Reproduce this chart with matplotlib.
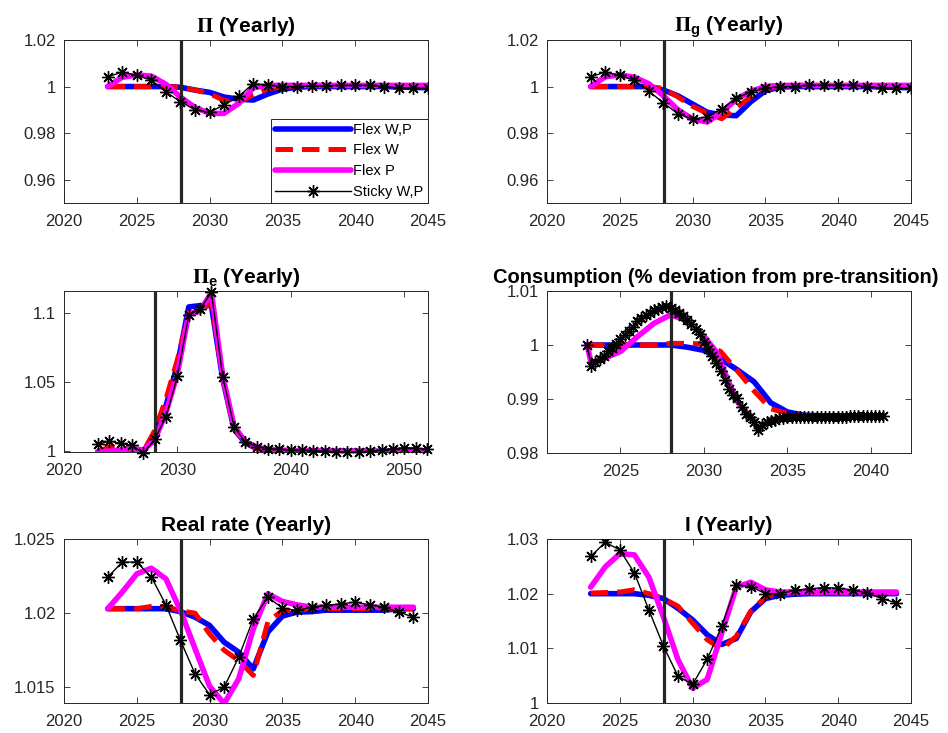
import numpy as np
import matplotlib
matplotlib.use('Agg')
import matplotlib.pyplot as plt

plt.rcParams['font.family'] = ['Liberation Sans', 'DejaVu Sans']
plt.rcParams['mathtext.fontset'] = 'custom'
plt.rcParams['mathtext.rm'] = 'STIXGeneral'
plt.rcParams['mathtext.bf'] = 'STIXGeneral:bold'
plt.rcParams['mathtext.sf'] = 'Liberation Sans:bold'

# ---- data ----
labels = ['Flex W,P', 'Flex W', 'Flex P', 'Sticky W,P']
t_switch = 2028.05

# Pi (yearly)
yrs_pi = list(range(2023, 2046))
pi_flex_wp = [1.0, 1.0, 1.0, 1.0, 1.0, 0.9997, 0.9985, 0.9975, 0.9955, 0.9946, 0.9942, 0.9968,
              0.9989, 0.9997, 1.0, 1.0, 1.0, 1.0, 1.0, 1.0, 0.9998, 0.9996, 0.9995]
pi_flex_w = [1.0, 1.0, 1.0, 1.0, 1.0, 0.9998, 0.9985, 0.9970, 0.9940, 0.9932, 0.9965, 0.9990,
             1.0, 1.0003, 1.0005, 1.0005, 1.0005, 1.0005, 1.0005, 1.0005, 1.0003, 1.0002, 1.0002]
pi_flex_p = [1.0, 1.0040, 1.0050, 1.0045, 1.0010, 0.9955, 0.9910, 0.9885, 0.9885, 0.9928, 0.9995, 1.0005,
             1.0005, 1.0005, 1.0005, 1.0005, 1.0005, 1.0005, 1.0005, 1.0005, 1.0005, 1.0005, 1.0005]
pi_sticky = [1.0042, 1.0062, 1.0048, 1.0028, 0.9977, 0.9935, 0.9900, 0.9890, 0.9921, 0.9958, 1.0013, 1.0006,
             1.0000, 1.0000, 1.0003, 1.0004, 1.0005, 1.0005, 1.0005, 1.0000, 0.9994, 0.9993, 0.9992]

# Pi_g (yearly)
pig_flex_wp = [1.0, 1.0, 1.0, 1.0, 1.0, 0.9985, 0.9960, 0.9925, 0.9890, 0.9878, 0.9875, 0.9935,
               0.9982, 0.9998, 1.0, 1.0, 1.0, 1.0, 1.0, 1.0, 0.9998, 0.9996, 0.9995]
pig_flex_w = [1.0, 1.0, 1.0, 1.0, 1.0, 0.9992, 0.9955, 0.9915, 0.9885, 0.9862, 0.9910, 0.9955,
              0.9990, 1.0, 1.0005, 1.0005, 1.0005, 1.0005, 1.0005, 1.0005, 1.0003, 1.0002, 1.0002]
pig_flex_p = [1.0, 1.0042, 1.0050, 1.0040, 1.0012, 0.9960, 0.9900, 0.9860, 0.9848, 0.9890, 0.9945, 0.9980,
              1.0, 1.0005, 1.0005, 1.0005, 1.0005, 1.0005, 1.0005, 1.0005, 1.0005, 1.0005, 1.0005]
pig_sticky = [1.0042, 1.0062, 1.0048, 1.0027, 0.9980, 0.9930, 0.9883, 0.9860, 0.9870, 0.9904, 0.9950, 0.9977,
              0.9992, 1.0, 1.0, 1.0006, 1.0006, 1.0006, 1.0006, 1.0, 0.9994, 0.9992, 0.9992]

# Pi_e (yearly)
yrs_pie = list(range(2023, 2053))
pie_flex_wp = [1.0, 1.0, 1.0, 1.0, 1.0, 1.012, 1.033, 1.062, 1.104, 1.105, 1.105, 1.052, 1.016, 1.006, 1.002,
               1.001, 1.0, 1.0, 1.0, 1.0, 1.0, 1.0, 1.0, 1.0, 1.0, 1.0, 1.0, 1.0, 1.0, 1.0]
pie_flex_w = [1.0, 1.003, 1.003, 1.0, 1.0, 1.015, 1.038, 1.066, 1.100, 1.100, 1.108, 1.052, 1.016, 1.006, 1.002,
              1.001, 1.0, 1.0, 1.0, 1.0, 1.0, 1.0, 1.0, 1.0, 1.0, 1.0, 1.0, 1.0, 1.0, 1.0]
pie_flex_p = [1.0, 1.0, 1.001, 1.002, 1.001, 1.008, 1.028, 1.056, 1.099, 1.101, 1.1145, 1.054, 1.018, 1.007,
              1.003, 1.0015, 1.001, 1.0005, 1.0005, 1.0005, 1.0, 1.0, 1.0, 1.0, 1.0, 1.0, 1.0, 1.0, 1.0, 1.0]
pie_sticky = [1.0050, 1.0074, 1.0057, 1.0043, 0.9985, 1.0086, 1.0250, 1.0540, 1.0980, 1.1026, 1.1145, 1.0538,
              1.0176, 1.0067, 1.0033, 1.0019, 1.0014, 1.0010, 1.0010, 1.0005, 1.0000, 0.9998, 0.9992, 0.9992,
              1.0000, 1.0010, 1.0019, 1.0026, 1.0024, 1.0014]

# Consumption (quarterly for sticky, key dates for the others)
q_cons = [2023.0, 2023.25, 2023.5, 2023.75, 2024.0, 2024.25, 2024.5, 2024.75, 2025.0, 2025.25, 2025.5, 2025.75,
          2026.0, 2026.25, 2026.5, 2026.75, 2027.0, 2027.25, 2027.5, 2027.75, 2028.0, 2028.25, 2028.5, 2028.75,
          2029.0, 2029.25, 2029.5, 2029.75, 2030.0, 2030.25, 2030.5, 2030.75, 2031.0, 2031.25, 2031.5, 2031.75,
          2032.0, 2032.25, 2032.5, 2032.75, 2033.0, 2033.25, 2033.5, 2033.75, 2034.0, 2034.25, 2034.5, 2034.75,
          2035.0, 2035.25, 2035.5, 2035.75, 2036.0, 2036.25, 2036.5, 2036.75, 2037.0, 2037.25, 2037.5, 2037.75,
          2038.0, 2038.25, 2038.5, 2038.75, 2039.0, 2039.25, 2039.5, 2039.75, 2040.0, 2040.25, 2040.5, 2040.75]
cons_sticky = [1.0000, 0.9962, 0.9968, 0.9975, 0.9980, 0.9988, 0.9995, 1.0002, 1.0012, 1.0019, 1.0026, 1.0034,
               1.0045, 1.0050, 1.0055, 1.0059, 1.0064, 1.0067, 1.0070, 1.0073, 1.0068, 1.0064, 1.0059, 1.0053,
               1.0046, 1.0038, 1.0030, 1.0020, 1.0006, 0.9993, 0.9980, 0.9966, 0.9952, 0.9935, 0.9918, 0.9908,
               0.9901, 0.9886, 0.9873, 0.9866, 0.9858, 0.9843, 0.9852, 0.9857, 0.9860, 0.9862, 0.9864, 0.9865,
               0.9866, 0.9866, 0.9866, 0.9867, 0.9867, 0.9867, 0.9867, 0.9867, 0.9867, 0.9867, 0.9867, 0.9867,
               0.9867, 0.9867, 0.9867, 0.9868, 0.9868, 0.9868, 0.9868, 0.9868, 0.9868, 0.9868, 0.9869, 0.9869]
x_cons_flex = [2023, 2024, 2025, 2026, 2027, 2028, 2029, 2030, 2031, 2032, 2033, 2034, 2035, 2036, 2037,
               2038, 2039, 2040, 2040.75]
cons_flex_wp = [1.0, 1.0, 1.0, 1.0, 1.0, 1.0, 0.9996, 0.9990, 0.9974, 0.9954, 0.9932, 0.9893, 0.9876, 0.9870,
                0.9869, 0.9869, 0.9869, 0.9869, 0.9869]
cons_flex_w = [1.0, 1.0, 1.0, 1.0, 1.0, 1.0003, 1.0003, 1.0002, 0.9988, 0.9952, 0.9915, 0.9882, 0.9873, 0.9869,
               0.9868, 0.9868, 0.9868, 0.9868, 0.9868]
x_cons_p = [2023, 2023.25, 2024, 2025, 2026, 2027, 2028, 2029, 2030, 2030.75, 2031.5, 2032, 2033, 2033.25,
            2034, 2035, 2036, 2038, 2040.75]
cons_flex_p = [1.0, 0.9966, 0.9975, 0.9988, 1.0015, 1.0040, 1.0056, 1.0045, 1.0016, 0.9987, 0.9930, 0.9895,
               0.9858, 0.9842, 0.9862, 0.9865, 0.9866, 0.9867, 0.9868]

# Real rate (yearly)
yrs_r = list(range(2023, 2045))
r_flex_wp = [1.0203, 1.0203, 1.0203, 1.0203, 1.0203, 1.0201, 1.01973, 1.01917, 1.01804, 1.01737, 1.01624, 1.01872,
             1.0198, 1.02007, 1.0201, 1.0202, 1.0202, 1.0202, 1.0202, 1.0202, 1.0203, 1.0203]
r_flex_w = [1.0203, 1.0203, 1.0203, 1.02045, 1.02045, 1.02015, 1.0200, 1.0186, 1.0175, 1.0168, 1.0158, 1.0194,
            1.02018, 1.0202, 1.0203, 1.0203, 1.0203, 1.0203, 1.0203, 1.0203, 1.0203, 1.0203]
r_flex_p = [1.0203, 1.02142, 1.02265, 1.02303, 1.02231, 1.02018, 1.0176, 1.01507, 1.0139, 1.01557, 1.01894, 1.0213,
            1.02079, 1.02056, 1.0204, 1.0204, 1.0204, 1.0204, 1.0204, 1.0204, 1.0204, 1.0204]
r_sticky = [1.02243, 1.02344, 1.02344, 1.02243, 1.02056, 1.01816, 1.01591, 1.01450, 1.01501, 1.01703, 1.01962,
            1.02108, 1.02034, 1.02018, 1.02040, 1.02052, 1.02063, 1.02074, 1.02056, 1.02040, 1.02007, 1.01973]

# Nominal rate I (yearly)
i_flex_wp = [1.0200, 1.0200, 1.0200, 1.0200, 1.0197, 1.0191, 1.0173, 1.0152, 1.0125, 1.0107, 1.0118, 1.0167,
             1.0191, 1.0197, 1.0199, 1.0200, 1.0200, 1.0200, 1.0200, 1.0200, 1.0200, 1.0200]
i_flex_w = [1.0201, 1.0202, 1.0203, 1.0207, 1.0200, 1.0191, 1.0177, 1.0146, 1.0116, 1.0098, 1.0122, 1.0168,
            1.0194, 1.0200, 1.0201, 1.0201, 1.0201, 1.0201, 1.0201, 1.0201, 1.0201, 1.0201]
i_flex_p = [1.0212, 1.0249, 1.0273, 1.0271, 1.0230, 1.0157, 1.0079, 1.0027, 1.0043, 1.0128, 1.0212, 1.0221,
            1.0207, 1.0203, 1.0203, 1.0203, 1.0203, 1.0203, 1.0203, 1.0203, 1.0203, 1.0203]
i_sticky = [1.0268, 1.0294, 1.0280, 1.0238, 1.0170, 1.0104, 1.0049, 1.0034, 1.0080, 1.0140, 1.0216, 1.0213,
            1.0200, 1.0200, 1.0206, 1.0209, 1.0211, 1.0210, 1.0207, 1.0201, 1.0191, 1.0183]

# tick labels
ytl_pi = ['0.96', '0.98', '1', '1.02']
ytl_pie = ['1', '1.05', '1.1']
ytl_cons = ['0.98', '0.99', '1', '1.01']
ytl_r = ['1.015', '1.02', '1.025']
ytl_i = ['1', '1.01', '1.02', '1.03']

AX_COL = '#262626'
star = (8, 2, 0)


def draw(ax, series, sticky_x, sticky_y, sticky_ms=9, clip=True):
    """series: (x, y) for Flex W,P, Flex W, Flex P"""
    (xb, yb), (xr, yr), (xm, ym) = series
    ax.plot(xb, yb, color=(0, 0, 1), lw=4, solid_capstyle='round', label=labels[0], zorder=2)
    ax.plot(xr, yr, color=(1, 0, 0), lw=3.6, dashes=(3.5, 1.8), label=labels[1], zorder=3)
    ax.plot(xm, ym, color=(1, 0, 1), lw=4, solid_capstyle='round', label=labels[2], zorder=4)
    ax.axvline(t_switch, color=AX_COL, lw=2.3, zorder=5)
    ax.plot(sticky_x, sticky_y, color='k', lw=1, marker=star, ms=sticky_ms, mew=1,
            label=labels[3], zorder=6, clip_on=clip)
    ax.tick_params(direction='in', top=True, right=True, length=4, width=0.6,
                   colors=AX_COL, labelsize=12)
    ax.tick_params(axis='x', pad=8)
    ax.tick_params(axis='y', pad=6)
    for s in ax.spines.values():
        s.set_color(AX_COL)
        s.set_linewidth(0.7)


fig = plt.figure(figsize=(9.48, 7.33), dpi=100)
W, H = 948, 733


def add_ax(left, top, right, bottom):
    return fig.add_axes([left / W, 1 - bottom / H, (right - left) / W, (bottom - top) / H])


title_kw = dict(fontsize=15, fontweight='bold', pad=6)

# row 1
ax1 = add_ax(64, 40, 428, 203)
draw(ax1, [(yrs_pi, pi_flex_wp), (yrs_pi, pi_flex_w), (yrs_pi, pi_flex_p)], yrs_pi, pi_sticky)
ax1.set_xlim(2020, 2045)
ax1.set_ylim(0.95, 1.02)
ax1.set_xticks([2020, 2025, 2030, 2035, 2040, 2045])
ax1.set_yticks([0.96, 0.98, 1.0, 1.02])
ax1.set_yticklabels(ytl_pi)
ax1.set_title(r'$\mathbf{\Pi}$ (Yearly)', **title_kw)
leg = ax1.legend(loc='lower right', fontsize=10.5, handlelength=5.2, handletextpad=0.15,
                 labelspacing=0.45, borderpad=0.3, borderaxespad=0, fancybox=False,
                 framealpha=1, edgecolor=AX_COL)
leg.get_frame().set_linewidth(0.7)

ax2 = add_ax(547, 40, 911, 203)
draw(ax2, [(yrs_pi, pig_flex_wp), (yrs_pi, pig_flex_w), (yrs_pi, pig_flex_p)], yrs_pi, pig_sticky)
ax2.set_xlim(2020, 2045)
ax2.set_ylim(0.95, 1.02)
ax2.set_xticks([2020, 2025, 2030, 2035, 2040, 2045])
ax2.set_yticks([0.96, 0.98, 1.0, 1.02])
ax2.set_yticklabels(ytl_pi)
ax2.set_title(r'$\mathbf{\Pi}_\mathsf{g}$ (Yearly)', **title_kw)

# row 2
ax3 = add_ax(64, 291, 428, 452)
draw(ax3, [(yrs_pie, pie_flex_wp), (yrs_pie, pie_flex_w), (yrs_pie, pie_flex_p)],
     yrs_pie, pie_sticky, clip=False)
ax3.set_xlim(2020, 2052.1)
ax3.set_ylim(0.9995, 1.1155)
ax3.set_xticks([2020, 2030, 2040, 2050])
ax3.set_yticks([1.0, 1.05, 1.1])
ax3.set_yticklabels(ytl_pie)
ax3.set_title(r'$\mathbf{\Pi}_\mathsf{e}$ (Yearly)', **title_kw)

ax4 = add_ax(547, 291, 911, 453)
draw(ax4, [(x_cons_flex, cons_flex_wp), (x_cons_flex, cons_flex_w), (x_cons_p, cons_flex_p)],
     q_cons, cons_sticky)
ax4.set_xlim(2020.6, 2042.4)
ax4.set_ylim(0.98, 1.01)
ax4.set_xticks([2025, 2030, 2035, 2040])
ax4.set_yticks([0.98, 0.99, 1.0, 1.01])
ax4.set_yticklabels(ytl_cons)
ax4.set_title('Consumption (% deviation from pre-transition)', x=0.464, fontsize=14.5,
              fontweight='bold', pad=6)

# row 3
ax5 = add_ax(64, 539, 428, 703)
draw(ax5, [(yrs_r, r_flex_wp), (yrs_r, r_flex_w), (yrs_r, r_flex_p)], yrs_r, r_sticky)
ax5.set_xlim(2020, 2045)
ax5.set_ylim(1.01394, 1.025)
ax5.set_xticks([2020, 2025, 2030, 2035, 2040, 2045])
ax5.set_yticks([1.015, 1.02, 1.025])
ax5.set_yticklabels(ytl_r)
ax5.set_title('Real rate (Yearly)', **title_kw)

ax6 = add_ax(547, 539, 911, 703)
draw(ax6, [(yrs_r, i_flex_wp), (yrs_r, i_flex_w), (yrs_r, i_flex_p)], yrs_r, i_sticky)
ax6.set_xlim(2020, 2045)
ax6.set_ylim(1.0, 1.03)
ax6.set_xticks([2020, 2025, 2030, 2035, 2040, 2045])
ax6.set_yticks([1.0, 1.01, 1.02, 1.03])
ax6.set_yticklabels(ytl_i)
ax6.set_title('I (Yearly)', **title_kw)

fig.savefig('out.png', dpi=100)
